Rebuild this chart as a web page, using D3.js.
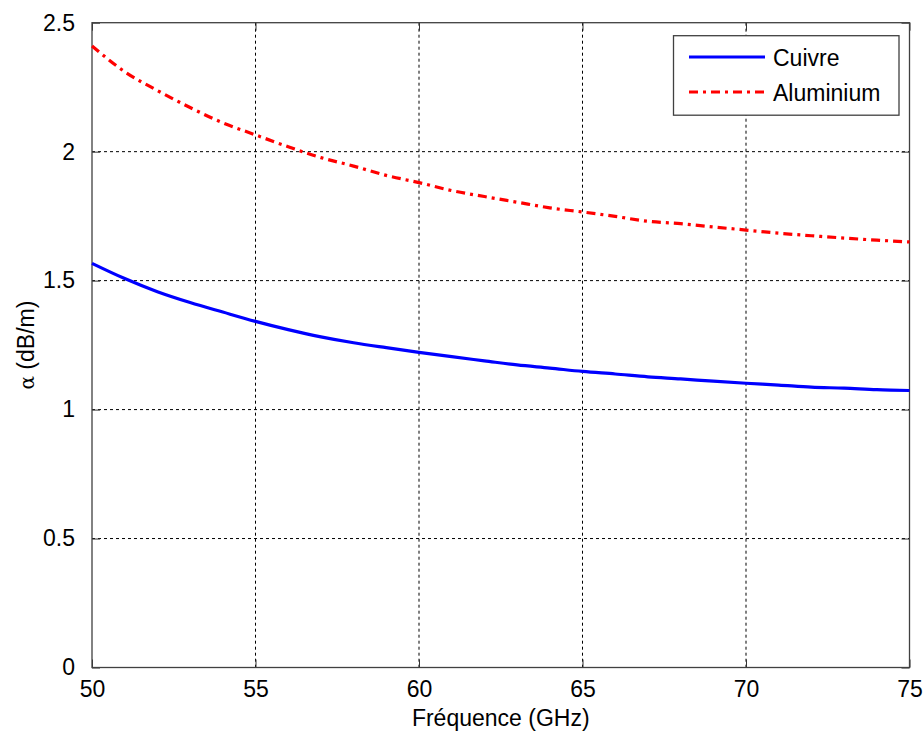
<!DOCTYPE html>
<html>
<head>
<meta charset="utf-8">
<script src="https://cdn.jsdelivr.net/npm/d3@7"></script>
<style>
  html, body { margin: 0; padding: 0; background: #fff; }
  svg { display: block; }
  text { font-family: "Liberation Sans", Arial, sans-serif; fill: #000; }
</style>
</head>
<body>
<svg id="chart" width="924" height="734"></svg>
<script>
// ---- Data ----
const frequencies = [50, 51, 52, 53, 54, 55, 56, 57, 58, 59, 60, 61, 62, 63, 64, 65, 66, 67, 68, 69, 70, 71, 72, 73, 74, 75];
const cuivre = [1.567, 1.508, 1.457, 1.415, 1.378, 1.342, 1.310, 1.282, 1.259, 1.240, 1.222, 1.205, 1.189, 1.173, 1.161, 1.148, 1.138, 1.127, 1.119, 1.110, 1.102, 1.095, 1.087, 1.083, 1.077, 1.074];
const aluminium = [2.410, 2.310, 2.237, 2.171, 2.112, 2.065, 2.019, 1.977, 1.944, 1.908, 1.880, 1.849, 1.826, 1.804, 1.782, 1.766, 1.749, 1.730, 1.721, 1.708, 1.696, 1.684, 1.674, 1.665, 1.657, 1.650];
const xTicks = [50, 55, 60, 65, 70, 75];
const yTicks = [0, 0.5, 1, 1.5, 2, 2.5];
const seriesNames = ["Cuivre", "Aluminium"];
const xLabel = "Fréquence (GHz)";
const yLabel = "(dB/m)";

(function () {
// ---- Layout ----
const svg = d3.select("#chart");
const pL = 92, pR = 909.5, pT = 22.7, pB = 667.5;

const x = d3.scaleLinear().domain([50, 75]).range([pL, pR]);
const y = d3.scaleLinear().domain([0, 2.5]).range([pB, pT]);

// Grid
const grid = svg.append("g");
grid.selectAll("line.vg").data(xTicks.slice(1, -1)).enter().append("line")
  .attr("x1", d => x(d)).attr("x2", d => x(d))
  .attr("y1", pT).attr("y2", pB)
  .attr("stroke", "#000").attr("stroke-width", 1).attr("stroke-dasharray", "3,3");
grid.selectAll("line.hg").data(yTicks.slice(1, -1)).enter().append("line")
  .attr("y1", d => y(d)).attr("y2", d => y(d))
  .attr("x1", pL).attr("x2", pR)
  .attr("stroke", "#000").attr("stroke-width", 1).attr("stroke-dasharray", "3,3");

// Axes with inward ticks
const fmt = d => String(d);
svg.append("g").attr("transform", `translate(0,${pB})`)
  .call(d3.axisBottom(x).tickValues(xTicks).tickFormat(fmt).tickSizeInner(-8).tickSizeOuter(0).tickPadding(13))
  .call(g => g.select(".domain").remove());
svg.append("g").attr("transform", `translate(0,${pT})`)
  .call(d3.axisTop(x).tickValues(xTicks).tickFormat("").tickSizeInner(-8).tickSizeOuter(0))
  .call(g => g.select(".domain").remove());
svg.append("g").attr("transform", `translate(${pL},0)`)
  .call(d3.axisLeft(y).tickValues(yTicks).tickFormat(fmt).tickSizeInner(-8).tickSizeOuter(0).tickPadding(17))
  .call(g => g.select(".domain").remove());
svg.append("g").attr("transform", `translate(${pR},0)`)
  .call(d3.axisRight(y).tickValues(yTicks).tickFormat("").tickSizeInner(-8).tickSizeOuter(0))
  .call(g => g.select(".domain").remove());

svg.selectAll(".tick line").attr("stroke", "#333");
svg.selectAll(".tick text")
  .style("font-family", "'Liberation Sans', Arial, sans-serif")
  .style("font-size", "23px").attr("fill", "#000");

// Box
svg.append("rect").attr("x", pL).attr("y", pT)
  .attr("width", pR - pL).attr("height", pB - pT)
  .attr("fill", "none").attr("stroke", "#404040").attr("stroke-width", 1.3);

// Lines
const line = d3.line().x((d, i) => x(frequencies[i])).y(d => y(d)).curve(d3.curveMonotoneX);
svg.append("path").datum(cuivre).attr("d", line)
  .attr("fill", "none").attr("stroke", "#0000ff").attr("stroke-width", 3.2);
svg.append("path").datum(aluminium).attr("d", line)
  .attr("fill", "none").attr("stroke", "#ff0000").attr("stroke-width", 3.2)
  .attr("stroke-dasharray", "9,5,3,5");

// Axis labels
svg.append("text").attr("x", (pL + pR) / 2).attr("y", 726)
  .attr("text-anchor", "middle").style("font-size", "23px").text(xLabel);
const yl = svg.append("text").attr("transform", `translate(34,${(pT + pB) / 2}) rotate(-90)`)
  .attr("text-anchor", "middle").style("font-size", "23px");
yl.append("tspan").style("font-family", "'DejaVu Serif', serif").style("font-size", "20px").text("α");
yl.append("tspan").text(" " + yLabel);

// Legend
const lg = svg.append("g");
lg.append("rect").attr("x", 673.5).attr("y", 35.7).attr("width", 225.5).attr("height", 79.5)
  .attr("fill", "#fff").attr("stroke", "#404040").attr("stroke-width", 1.3);
const legendY = [57, 92];
lg.append("line").attr("x1", 689).attr("x2", 765).attr("y1", legendY[0]).attr("y2", legendY[0])
  .attr("stroke", "#0000ff").attr("stroke-width", 3.2);
lg.append("line").attr("x1", 689).attr("x2", 765).attr("y1", legendY[1]).attr("y2", legendY[1])
  .attr("stroke", "#ff0000").attr("stroke-width", 3.2).attr("stroke-dasharray", "9,5,3,5");
lg.selectAll("text.leg").data(seriesNames).enter().append("text")
  .attr("x", 773).attr("y", (d, i) => legendY[i] + 8.5)
  .style("font-size", "23px").text(d => d);
})();
</script>
</body>
</html>
